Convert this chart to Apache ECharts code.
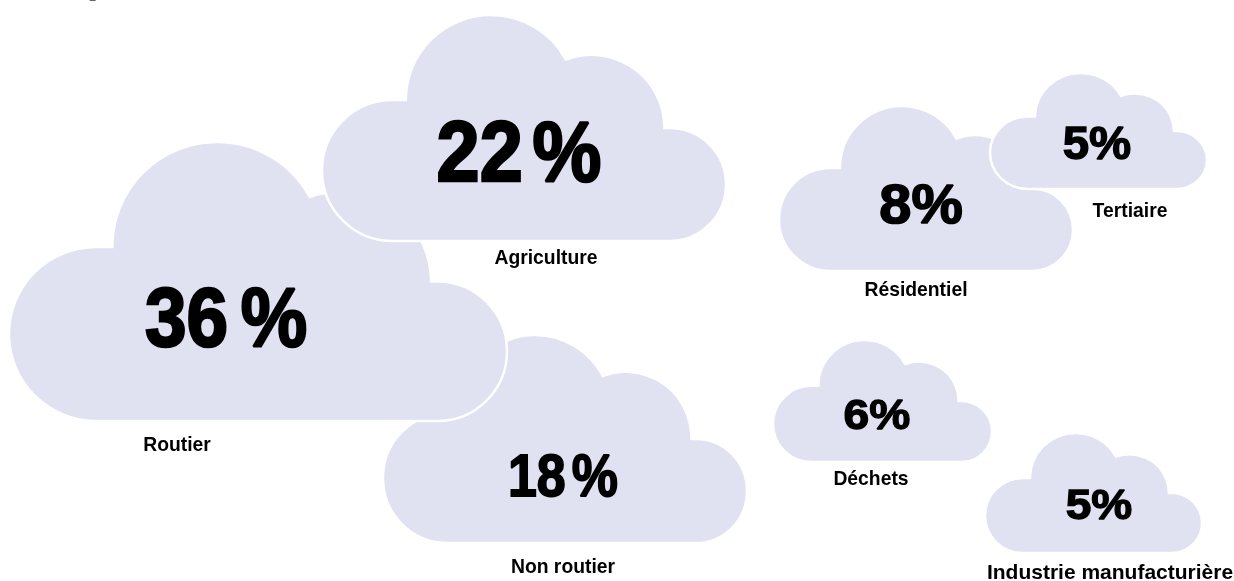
<!DOCTYPE html>
<html>
<head>
    <meta charset="utf-8">
    <title>Répartition par secteur</title>
    <script src="https://cdn.jsdelivr.net/npm/echarts@6/dist/echarts.min.js"></script>
    <style>
        html, body {
            margin: 0;
            padding: 0;
            background: #ffffff;
        }

        #chart {
            width: 1234px;
            height: 581px;
        }
    </style>
</head>
<body>
<div id="chart"></div>
<script>
    // data
    var categories = ['Routier', 'Agriculture', 'Non routier', 'Résidentiel', 'Tertiaire', 'Déchets', 'Industrie manufacturière'];
    var shares = [36, 22, 18, 8, 5, 6, 5];

    // layout (page pixels on the hidden axes)
    var cloudBoxes = [[9, 142, 507, 421], [322, 15, 726, 241], [383, 335, 747, 543], [779, 106, 1073, 271],
        [990, 73, 1207, 189], [773, 340, 992, 462], [985, 433, 1202, 553]];
    var valuePos = [[226, 317], [519, 151], [563, 476], [921, 204], [1097, 143], [877, 414], [1099, 504]];
    var valueSize = [83, 86, 59, 56, 46, 42, 43];
    var valueScale = [0.9, 0.9, 0.88, 1.03, 1.03, 1.1, 1.07];
    var valueGap = [14, 11, 7, 0, 0, 0, 0];
    var namePos = [[177, 445], [546, 258], [563, 567], [916, 290], [1130, 211], [871, 479], [1110, 573]];
    var nameScale = [0.92, 0.92, 0.92, 0.92, 0.92, 0.92, 1.0];
    var cloudZ = [1, 2, 0, 0, 1, 0, 0];

    var FONT = '"Liberation Sans", Arial, sans-serif';

    // cloud outline in a 178.4 x 100 box
    function cloudPath(x, y, w, h) {
        var sx = w / 178.4, sy = h / 100;
        function p(px, py) {
            return (x + px * sx).toFixed(2) + ' ' + (y + py * sy).toFixed(2);
        }
        function a(r) {
            return 'A ' + (r * sx).toFixed(2) + ' ' + (r * sy).toFixed(2) + ' 0 0 1 ';
        }
        return 'M ' + p(31.2, 100) +
            ' ' + a(31.2) + p(0, 68.8) +
            ' ' + a(31.2) + p(31.2, 37.6) +
            ' L ' + p(37.0, 37.6) +
            ' ' + a(37.6) + p(107.68, 19.72) +
            ' ' + a(32.3) + p(151.2, 50) +
            ' L ' + p(153.4, 50) +
            ' ' + a(25) + p(178.4, 75) +
            ' ' + a(25) + p(153.4, 100) +
            ' Z';
    }

    var seriesData = categories.map(function (c, i) {
        return {name: c, value: cloudBoxes[i].concat([shares[i]])};
    });

    var myChart = echarts.init(document.getElementById('chart'));
    myChart.setOption({
        animation: false,
        grid: {left: 0, right: 0, top: 0, bottom: 0},
        xAxis: {type: 'value', min: 0, max: 1234, show: false},
        yAxis: {type: 'value', min: 0, max: 581, inverse: true, show: false},
        graphic: [{
            type: 'text',
            left: 89,
            top: -9,
            style: {text: '2', fill: '#666666', font: '13px ' + FONT}
        }],
        series: [{
            type: 'custom',
            clip: false,
            data: seriesData,
            renderItem: function (params, api) {
                var i = params.dataIndex;
                var tl = api.coord([api.value(0), api.value(1)]);
                var br = api.coord([api.value(2), api.value(3)]);
                var vp = api.coord(valuePos[i]);
                var np = api.coord(namePos[i]);
                var fs = valueSize[i];
                var numStyle = {
                    fontFamily: FONT, fontWeight: 'bold', fontSize: fs, fill: '#000000',
                    stroke: '#000000', lineWidth: fs * 0.03
                };
                return {
                    type: 'group',
                    children: [{
                        type: 'path',
                        z2: cloudZ[i],
                        shape: {pathData: cloudPath(tl[0], tl[1], br[0] - tl[0], br[1] - tl[1])},
                        style: {fill: '#e0e1f1', stroke: '#ffffff', lineWidth: 2.5}
                    }, {
                        type: 'text',
                        z2: 100,
                        x: vp[0],
                        y: vp[1] + fs * 0.07,
                        scaleX: valueScale[i],
                        style: {
                            text: '{n|' + api.value(4) + '}{p|%}',
                            align: 'center',
                            verticalAlign: 'middle',
                            rich: {
                                n: echarts.util.extend({padding: [0, valueGap[i], 0, 0]}, numStyle),
                                p: numStyle
                            }
                        }
                    }, {
                        type: 'text',
                        z2: 100,
                        x: np[0],
                        y: np[1],
                        scaleX: nameScale[i],
                        style: {
                            text: categories[i],
                            align: 'center',
                            verticalAlign: 'middle',
                            fontFamily: FONT,
                            fontWeight: 'bold',
                            fontSize: 21,
                            fill: '#000000'
                        }
                    }]
                };
            }
        }]
    });
</script>
</body>
</html>
